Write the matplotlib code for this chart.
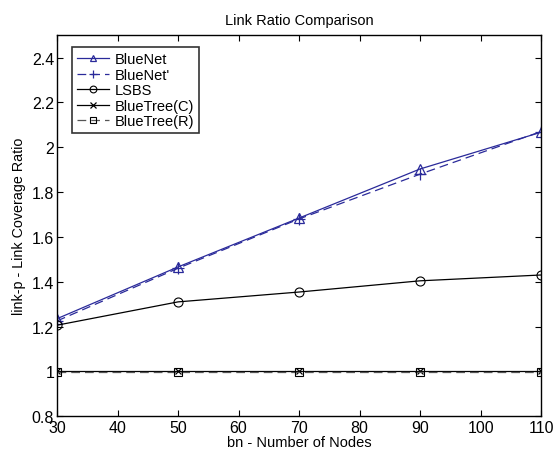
import matplotlib.pyplot as plt
import numpy as np

plt.rcParams['font.family'] = ['Liberation Sans', 'DejaVu Sans']

nodes = [30, 50, 70, 90, 110]
bluenet = [1.235, 1.466, 1.684, 1.903, 2.067]
bluenet_p = [1.225, 1.46, 1.68, 1.88, 2.07]
lsbs = [1.206, 1.31, 1.354, 1.404, 1.43]
bluetree_c = [1.0, 1.0, 1.0, 1.0, 1.0]
bluetree_r = [0.998, 0.998, 0.998, 0.998, 0.998]

blue = '#2a2a9a'

fig = plt.figure(figsize=(5.59, 4.52), dpi=100)
ax = fig.add_axes([0.102, 0.077, 0.866, 0.843])

ax.plot(nodes, bluenet, color=blue, lw=0.9, marker='^', ms=6.5, mfc='none', mec=blue, mew=0.9, label='BlueNet')
ax.plot(nodes, bluenet_p, color=blue, lw=0.9, ls=(0, (7, 4)), marker='+', ms=8, mew=0.9, label="BlueNet'")
ax.plot(nodes, lsbs, color='black', lw=0.9, marker='o', ms=6.5, mfc='none', mew=0.8, label='LSBS')
ax.plot(nodes, bluetree_c, color='black', lw=0.9, marker='x', ms=5, mew=0.9, label='BlueTree(C)')
ax.plot(nodes, bluetree_r, color='#555555', lw=0.9, ls=(0, (7, 4)), marker='s', ms=5.5, mfc='none', mec='black', mew=0.8, label='BlueTree(R)')

ax.set_xlim(30, 110)
ax.set_ylim(0.8, 2.5)
ax.set_xticks(np.arange(30, 111, 10))
ax.set_yticks([0.8, 1, 1.2, 1.4, 1.6, 1.8, 2, 2.2, 2.4])
ax.set_yticklabels(['0.8', '1', '1.2', '1.4', '1.6', '1.8', '2', '2.2', '2.4'])
ax.tick_params(direction='in', top=True, right=True, labelsize=11.5, length=4, width=0.8)
ax.tick_params(axis='x', pad=3)
ax.tick_params(axis='y', pad=2)
for s in ax.spines.values():
    s.set_linewidth(1.0)

ax.set_title('Link Ratio Comparison', fontsize=10.5, pad=8)
ax.set_xlabel('bn - Number of Nodes', fontsize=10.5, labelpad=0)
ax.set_ylabel('link-p - Link Coverage Ratio', fontsize=10.3, labelpad=4)

leg = ax.legend(loc='upper left', bbox_to_anchor=(0.030, 0.968), fontsize=10.5, frameon=True,
                fancybox=False, edgecolor='black', handlelength=2.2, handletextpad=0.4,
                labelspacing=0.1, borderpad=0.35, borderaxespad=0, markerscale=0.75)
leg.get_frame().set_linewidth(1.2)

fig.savefig('out.png', dpi=100)
